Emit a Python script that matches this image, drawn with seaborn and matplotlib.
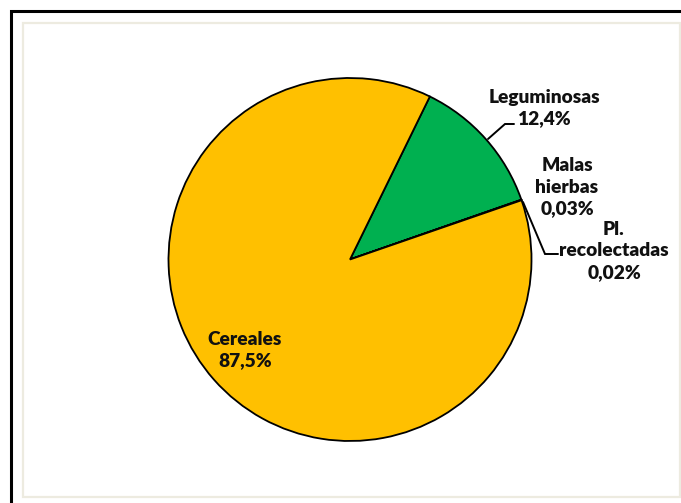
import matplotlib
matplotlib.use("Agg")
import matplotlib.pyplot as plt
import seaborn as sns
from matplotlib.patches import Rectangle

sns.set_theme(style="white")
plt.rcParams["font.family"] = ["Lato", "DejaVu Sans"]

# Composition of harvested plant remains (% of total)
categories = ["Leguminosas", "Malas\nhierbas", "Pl.\nrecolectadas", "Cereales"]
values = [12.4, 0.03, 0.02, 87.5]
value_labels = ["12,4%", "0,03%", "0,02%", "87,5%"]
colors = ["#00B050", "#7F6000", "#C55A11", "#FFC000"]

W, H = 681, 503
fig = plt.figure(figsize=(W / 100, H / 100), dpi=100)
ax = fig.add_axes([0, 0, 1, 1])
ax.set_xlim(0, W)
ax.set_ylim(0, H)
ax.set_aspect("equal")
ax.axis("off")

def py(y):
    # image-style y (from the top) to axes y (from the bottom)
    return H - y

cx, cy, r = 350, 259.5, 181.5
ax.pie(values, colors=colors, startangle=63.9, counterclock=False,
       center=(cx, py(cy)), radius=r, frame=True,
       wedgeprops=dict(edgecolor="black", linewidth=1.3))
ax.set_xlim(0, W)
ax.set_ylim(0, H)
ax.axis("off")

# Data labels
label_pos = [(544, 108), (567, 187), (614, 251), (245, 350)]
for name, val, (x, y) in zip(categories, value_labels, label_pos):
    ax.text(x, py(y), f"{name}\n{val}", ha="center", va="center",
            fontsize=13.8, fontweight="heavy", color="#111111",
            linespacing=1.3)

# Leader lines
leaders = [
    [(488, 139), (505, 124), (514, 124)],
    [(523, 202), (545, 254), (558, 254)],
]
for pts in leaders:
    xs = [p[0] for p in pts]
    ys = [py(p[1]) for p in pts]
    ax.plot(xs, ys, color="black", linewidth=1.4, solid_joinstyle="miter")

# Chart area and outer frame
ax.add_patch(Rectangle((22.5, py(497)), 680 - 22.5, 497 - 22.5, fill=False,
                       edgecolor="#EDEBE0", linewidth=1.6, zorder=5))
ax.add_patch(Rectangle((11, py(H + 20)), W + 20, H + 20 - 11, fill=False,
                       edgecolor="black", linewidth=2.2, zorder=5,
                       clip_on=False))

fig.savefig("out.png", dpi=100)
